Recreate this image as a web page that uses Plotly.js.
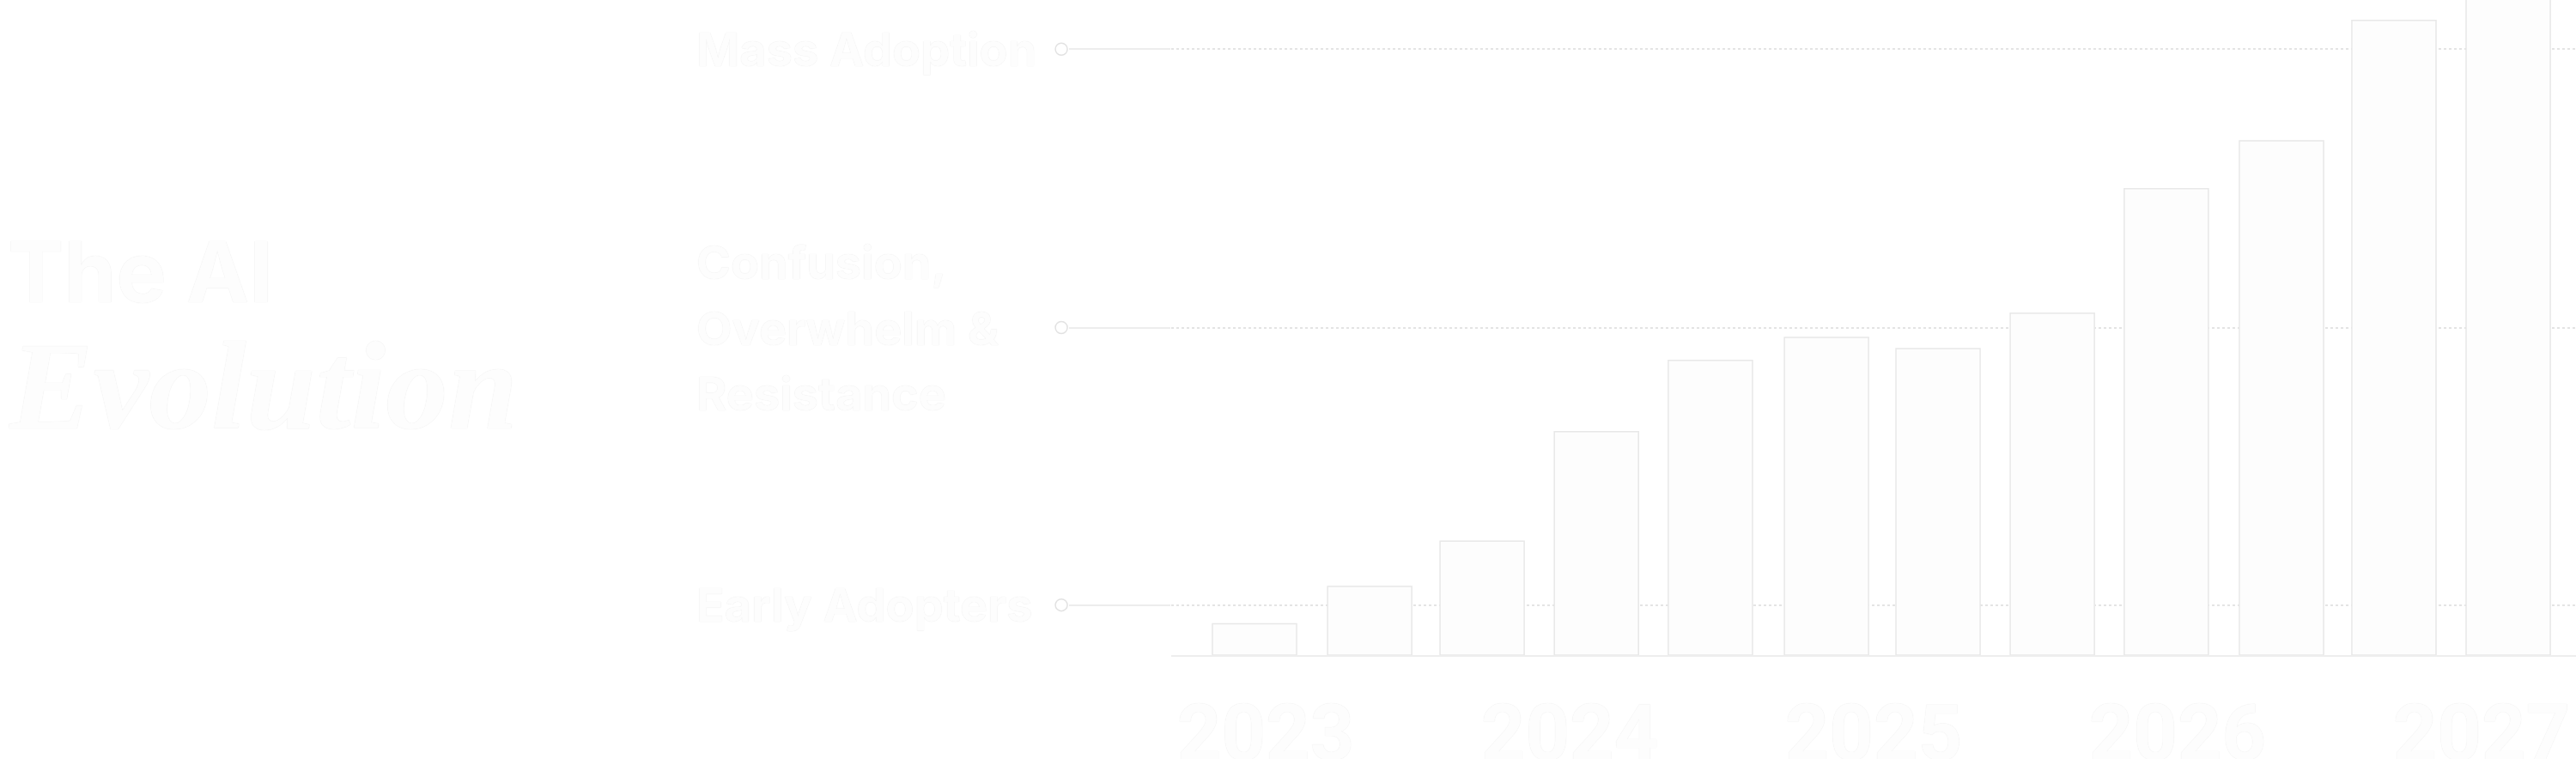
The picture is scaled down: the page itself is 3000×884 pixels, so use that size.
<!DOCTYPE html>
<html>
<head>
<meta charset="utf-8">
<script src="https://cdn.plot.ly/plotly-3.0.1.min.js"></script>
<style>
  html, body { margin: 0; padding: 0; background: #ffffff; }
  #chart { width: 3000px; height: 884px; }
</style>
</head>
<body>
<div id="chart"></div>
<script>
// ---- data ----
const barPositions = [2022.963, 2023.342, 2023.712, 2024.088, 2024.463, 2024.845, 2025.212, 2025.588, 2025.963, 2026.342, 2026.712, 2027.088];
const barValues = [4.8, 10.5, 17.4, 34.1, 45.0, 48.5, 46.8, 52.2, 71.2, 78.5, 96.9, 105];
const yearTicks = [2023, 2024, 2025, 2026, 2027];
const yearLabels = ["2023", "2024", "2025", "2026", "2027"];
const stageValues = [7.65, 50.0, 92.5];
const stageLabels = ["Early Adopters", "Confusion,<br>Overwhelm &<br>Resistance", "Mass Adoption"];
const titleLine1 = "The AI";
const titleLine2 = "Evolution";

// ---- styles ----
const textColor = "#fdfdfd";
const textShadow = "0px 0px 1px rgba(0,0,0,0.12)";

const trace = {
  type: "bar",
  x: barPositions,
  y: barValues,
  width: 0.277,
  marker: { color: "#fdfdfd", line: { color: "#e8e8e8", width: 1.5 } },
  hoverinfo: "skip",
  showlegend: false
};

const annotations = [];
stageValues.forEach((v, i) => {
  annotations.push({
    xref: "paper", yref: "y",
    x: -0.3392, y: v,
    xanchor: "left", yanchor: "middle", align: "left",
    text: stageLabels[i].split("<br>").map(s => '<span style="font-size:54px">' + s + '</span>').join("<br>"),
    showarrow: false,
    font: { family: "Inter, Roboto, sans-serif", size: 59, weight: 700, color: textColor, shadow: textShadow }
  });
});
annotations.push({
  xref: "paper", yref: "paper",
  x: -0.8295, y: 0.585,
  xanchor: "left", yanchor: "middle", align: "left",
  text: titleLine1, showarrow: false,
  font: { family: "Inter, Roboto, sans-serif", size: 98, weight: 700, color: textColor, shadow: textShadow }
});
annotations.push({
  xref: "paper", yref: "paper",
  x: -0.8295, y: 0.41,
  xanchor: "left", yanchor: "middle", align: "left",
  text: "<i><b>" + titleLine2 + "</b></i>", showarrow: false,
  font: { family: "'Liberation Serif', serif", size: 146, style: "italic", weight: 700, color: textColor, shadow: textShadow }
});

const shapes = stageValues.map(v => ({
  type: "circle", xref: "paper", yref: "y",
  xsizemode: "pixel", ysizemode: "pixel",
  xanchor: -0.0782, yanchor: v,
  x0: -7, x1: 7, y0: -7, y1: 7,
  line: { color: "#e2e2e2", width: 1.5 },
  fillcolor: "#ffffff"
}));

const layout = {
  width: 3000, height: 884,
  margin: { l: 1364, r: 0, t: 0, b: 121, pad: 0 },
  paper_bgcolor: "#ffffff",
  plot_bgcolor: "#ffffff",
  showlegend: false,
  bargap: 0,
  xaxis: {
    range: [2022.689, 2027.311],
    tickvals: yearTicks, ticktext: yearLabels,
    showgrid: false, zeroline: false,
    showline: true, linecolor: "#eeeeee", linewidth: 2,
    ticks: "", ticklabelstandoff: 12,
    tickfont: { family: "Roboto, Inter, sans-serif", size: 90, weight: 700, color: textColor, shadow: textShadow }
  },
  yaxis: {
    range: [0, 100],
    tickvals: stageValues,
    showticklabels: false,
    ticks: "outside", ticklen: 118, tickwidth: 2, tickcolor: "#ededed",
    showgrid: true, gridcolor: "#e4e4e4", gridwidth: 2, griddash: "dot",
    zeroline: false, showline: false
  },
  annotations: annotations,
  shapes: shapes
};

Plotly.newPlot("chart", [trace], layout, { displayModeBar: false, staticPlot: true });
</script>
</body>
</html>
